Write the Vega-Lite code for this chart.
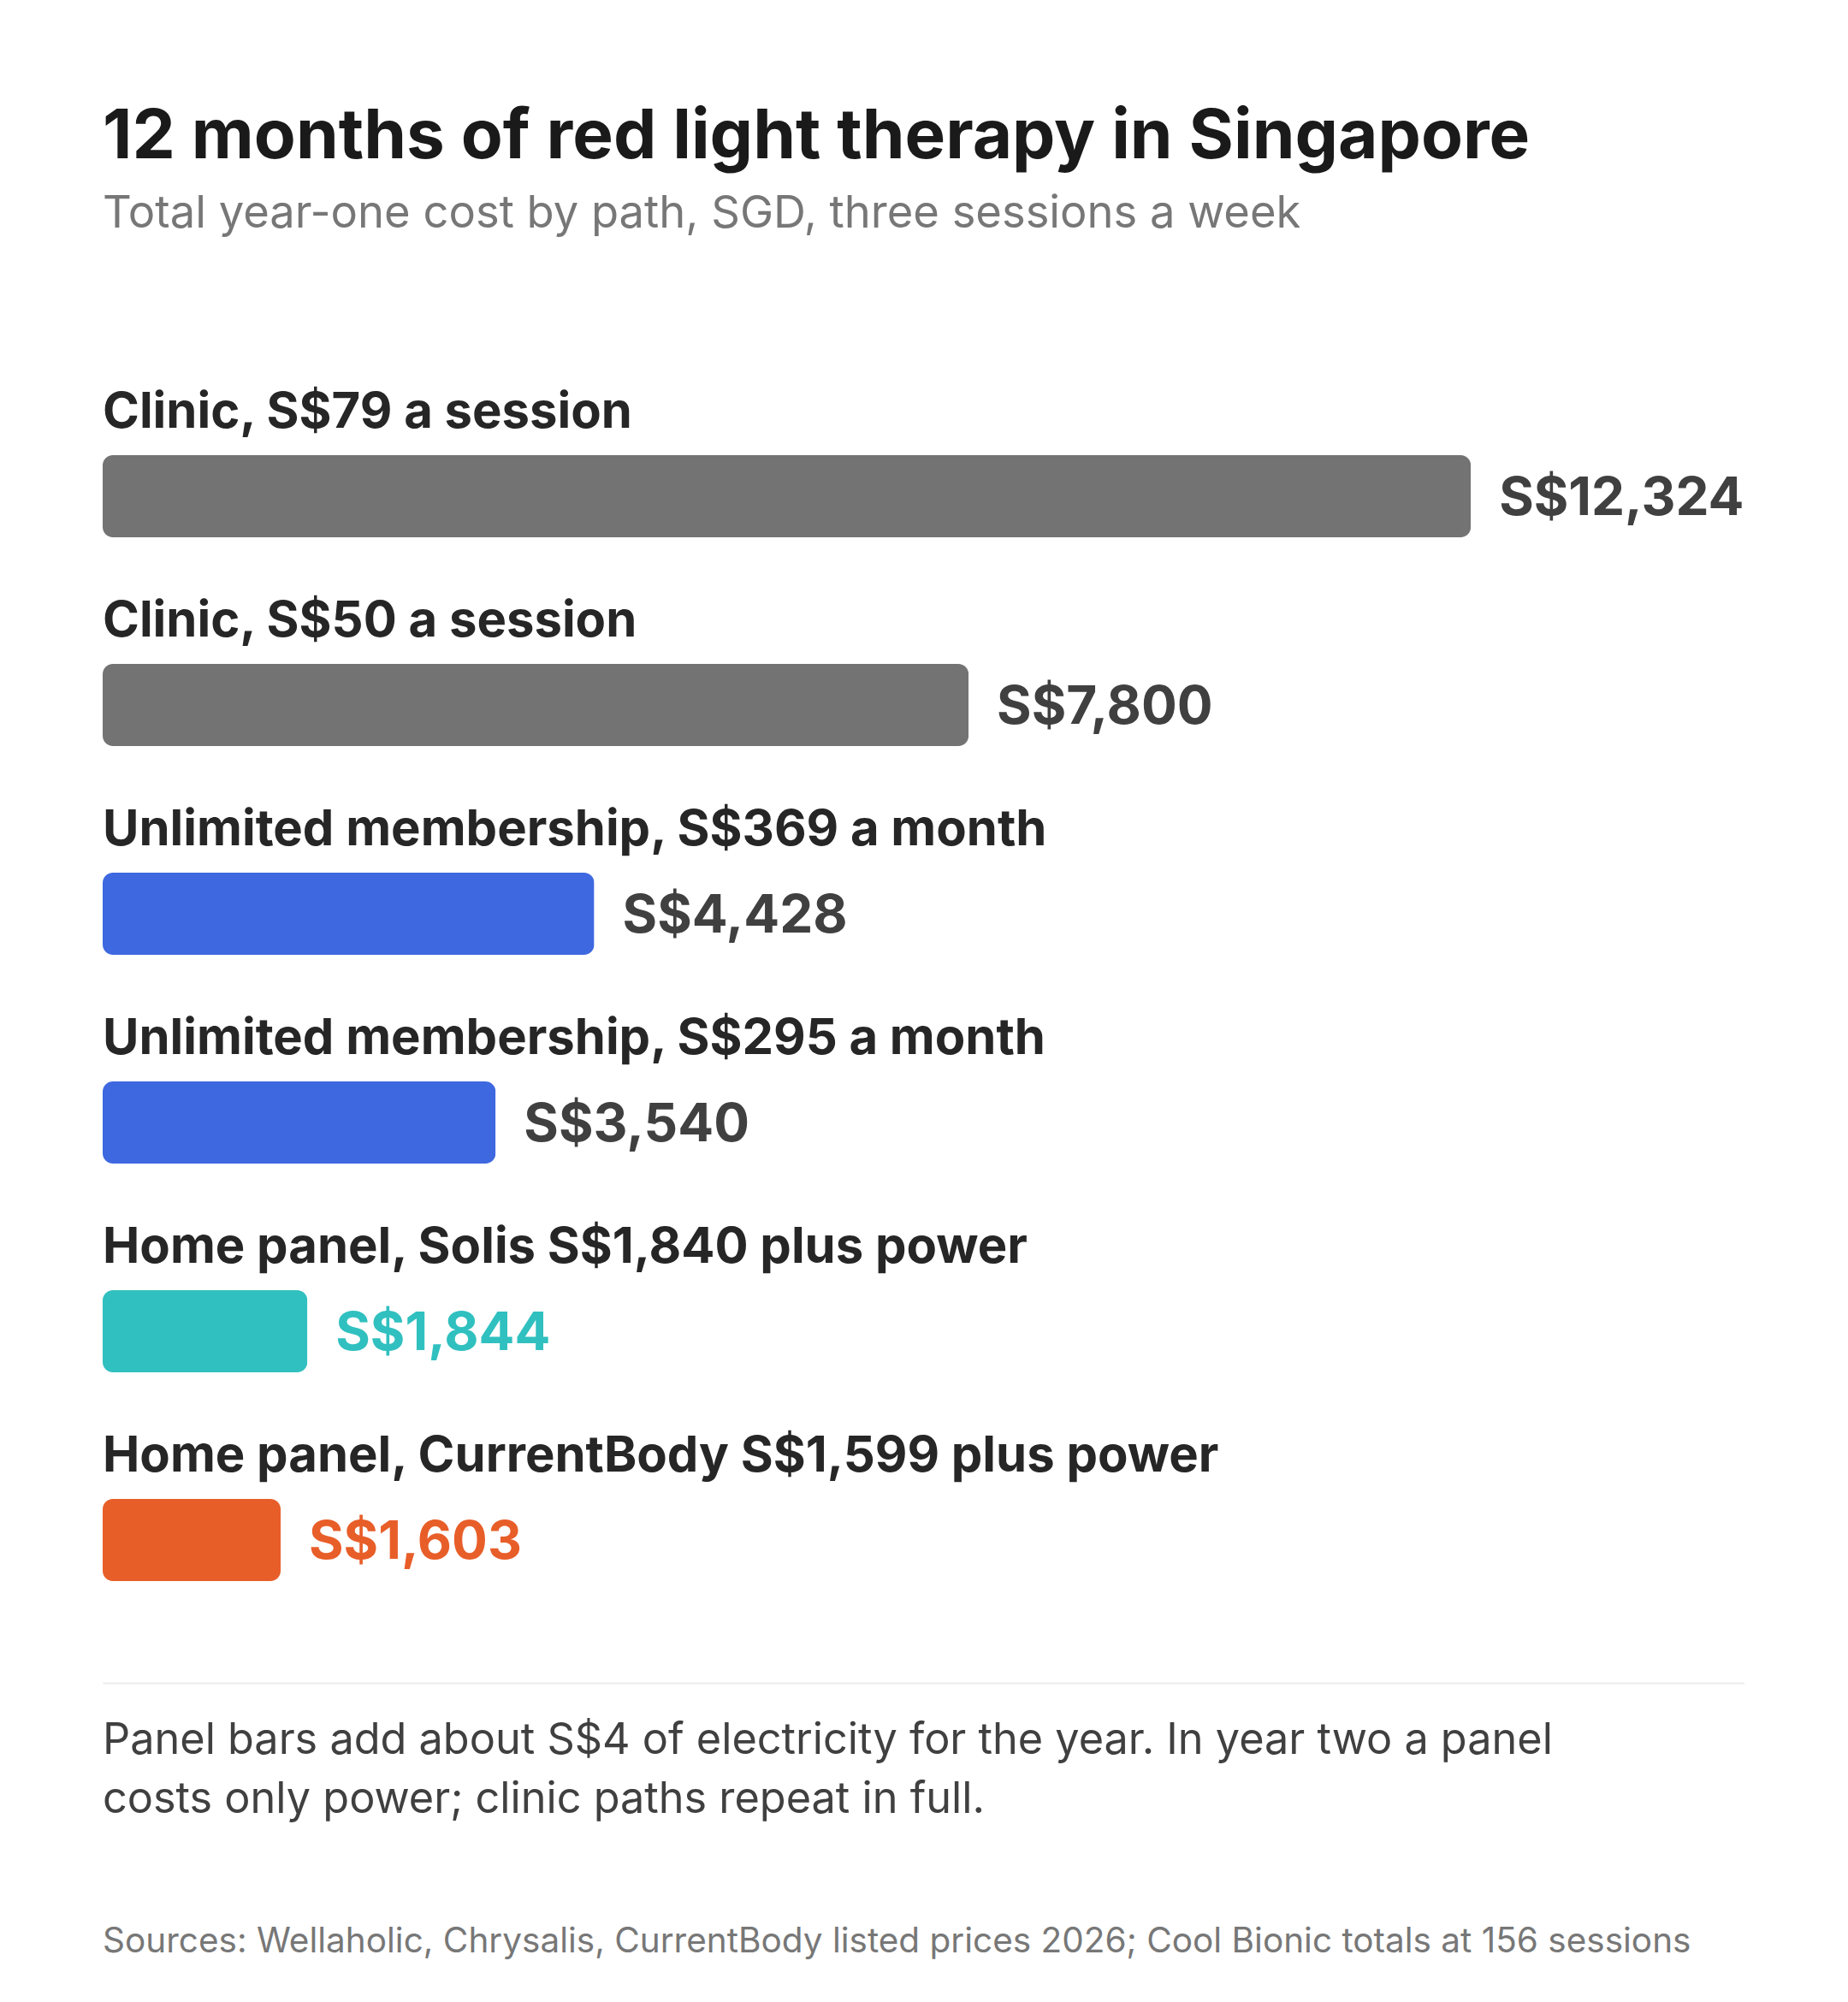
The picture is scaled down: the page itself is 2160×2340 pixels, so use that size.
{
  "$schema": "https://vega.github.io/schema/vega-lite/v6.json",
  "background": "white",
  "padding": {"left": 120, "top": 120, "right": 0, "bottom": 0},
  "title": {
    "text": "12 months of red light therapy in Singapore",
    "subtitle": "Total year-one cost by path, SGD, three sessions a week",
    "anchor": "start",
    "frame": "group",
    "font": "Inter",
    "fontSize": 80,
    "fontWeight": 700,
    "color": "#1a1a1a",
    "subtitleFont": "Inter",
    "subtitleFontSize": 52.5,
    "subtitleFontWeight": 400,
    "subtitleColor": "#777777",
    "subtitlePadding": 23,
    "offset": 136
  },
  "config": {"view": {"stroke": null}},
  "spacing": 43,
  "vconcat": [
    {
      "width": 1919,
      "height": 1554,
      "data": {
        "values": [
          {"path": "Clinic, S$79 a session", "group": "clinic", "cost": 12324},
          {"path": "Clinic, S$50 a session", "group": "clinic", "cost": 7800},
          {"path": "Unlimited membership, S$369 a month", "group": "membership", "cost": 4428},
          {"path": "Unlimited membership, S$295 a month", "group": "membership", "cost": 3540},
          {"path": "Home panel, Solis S$1,840 plus power", "group": "solis", "cost": 1844},
          {"path": "Home panel, CurrentBody S$1,599 plus power", "group": "currentbody", "cost": 1603}
        ]
      },
      "transform": [
        {"calculate": "'S$' + format(datum.cost, ',')", "as": "costLabel"}
      ],
      "encoding": {
        "y": {
          "field": "path",
          "type": "nominal",
          "sort": null,
          "axis": null,
          "scale": {"paddingInner": 0.6066, "paddingOuter": 0.4877}
        }
      },
      "layer": [
        {
          "mark": {"type": "bar", "cornerRadius": 12},
          "encoding": {
            "x": {
              "field": "cost",
              "type": "quantitative",
              "scale": {"domain": [0, 14789], "nice": false, "zero": true},
              "axis": {
                "title": null,
                "labels": false,
                "ticks": false,
                "grid": false,
                "domain": true,
                "domainColor": "#ebebeb",
                "domainWidth": 2
              }
            },
            "color": {
              "field": "group",
              "type": "nominal",
              "scale": {
                "domain": ["clinic", "membership", "solis", "currentbody"],
                "range": ["#737373", "#3e68e0", "#30c0bf", "#e85e29"]
              },
              "legend": null
            }
          }
        },
        {
          "mark": {
            "type": "text",
            "align": "left",
            "baseline": "alphabetic",
            "dy": -80,
            "font": "Inter",
            "fontSize": 58,
            "fontWeight": 700,
            "color": "#262626"
          },
          "encoding": {
            "x": {"datum": 0, "type": "quantitative"},
            "text": {"field": "path"}
          }
        },
        {
          "mark": {
            "type": "text",
            "align": "left",
            "baseline": "alphabetic",
            "dx": 33,
            "dy": 22,
            "font": "Inter",
            "fontSize": 62,
            "fontWeight": 700
          },
          "encoding": {
            "x": {"field": "cost", "type": "quantitative"},
            "text": {"field": "costLabel"},
            "color": {
              "field": "group",
              "type": "nominal",
              "scale": {
                "domain": ["clinic", "membership", "solis", "currentbody"],
                "range": ["#404040", "#404040", "#30c0bf", "#e85e29"]
              },
              "legend": null
            }
          }
        }
      ],
      "resolve": {"scale": {"color": "independent"}}
    },
    {
      "width": 1919,
      "height": 232,
      "data": {
        "values": [
          {"kind": "note", "line": "Panel bars add about S$4 of electricity for the year. In year two a panel\ncosts only power; clinic paths repeat in full."},
          {"kind": "source", "line": "Sources: Wellaholic, Chrysalis, CurrentBody listed prices 2026; Cool Bionic totals at 156 sessions"}
        ]
      },
      "encoding": {
        "x": {"datum": 0, "type": "quantitative", "scale": {"domain": [0, 1]}, "axis": null},
        "y": {
          "field": "kind",
          "type": "nominal",
          "axis": null,
          "scale": {"type": "point", "domain": ["note", "source"], "padding": 0}
        }
      },
      "layer": [
        {
          "transform": [{"filter": "datum.kind === 'note'"}],
          "mark": {
            "type": "text",
            "align": "left",
            "baseline": "alphabetic",
            "lineBreak": "\n",
            "lineHeight": 69,
            "font": "Inter",
            "fontSize": 50.4,
            "color": "#404040"
          },
          "encoding": {"text": {"field": "line"}}
        },
        {
          "transform": [{"filter": "datum.kind === 'source'"}],
          "mark": {
            "type": "text",
            "align": "left",
            "baseline": "alphabetic",
            "font": "Inter",
            "fontSize": 40.5,
            "color": "#777777"
          },
          "encoding": {"text": {"field": "line"}}
        }
      ]
    }
  ]
}
